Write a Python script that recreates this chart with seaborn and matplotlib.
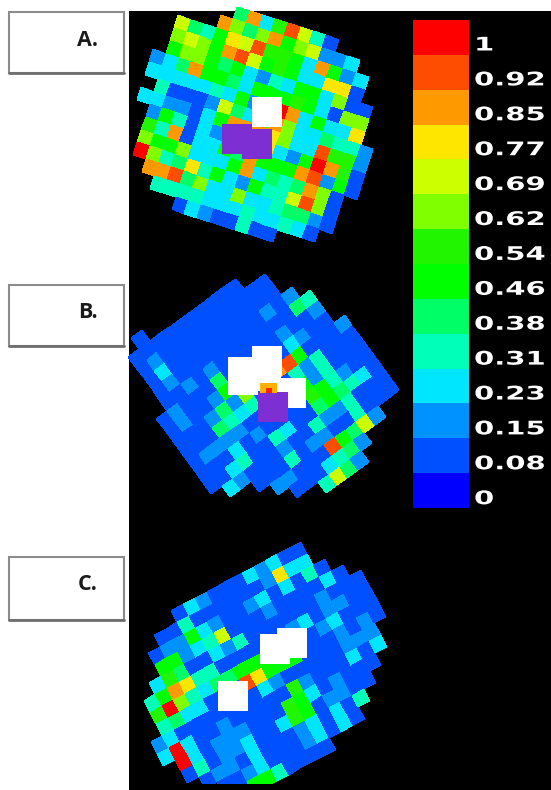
import numpy as np
import matplotlib
matplotlib.use('Agg')
import matplotlib.pyplot as plt
import seaborn as sns
from matplotlib.colors import ListedColormap
from matplotlib.patches import Rectangle
from matplotlib.patheffects import AbstractPathEffect
from matplotlib.transforms import Affine2D, Bbox, TransformedBbox

n = np.nan
o = 0.08

# colour scale, top of the bar first
scale_values = [1, 0.92, 0.85, 0.77, 0.69, 0.62, 0.54, 0.46, 0.38, 0.31, 0.23, 0.15, 0.08, 0]
scale_labels = ['1', '0.92', '0.85', '0.77', '0.69', '0.62', '0.54', '0.46', '0.38', '0.31', '0.23', '0.15', '0.08', '0']
scale_colors = ['#0000ff', '#0050ff', '#0092ff', '#00e6ff', '#00ffb8', '#00ff66', '#00ff00',
                '#22f500', '#80ff00', '#ccff00', '#ffe600', '#ff9900', '#ff4d00', '#ff0000']

panel_names = ['A.', 'B.', 'C.']

panel_a = [
    [n, n, n, n, n, .38, .85, .23, .54, .92, .69, .31, o, n, n, n, n, n],
    [n, n, n, n, .85, .62, .38, .62, .85, .46, .62, .69, .15, .15, .23, n, n, n],
    [n, .69, .38, .31, .46, .77, .69, .92, .54, .54, .46, .23, .85, .46, .15, .23, n, n],
    [n, .62, .69, .62, .46, .85, .92, .69, .46, .54, .46, .23, .23, .77, .77, o, n, n],
    [n, .46, .62, .62, .46, .38, .46, .23, .15, .31, .23, .46, .46, .23, .62, o, o, n],
    [.15, .23, .38, .85, .46, .46, .38, .23, .46, .46, .46, .54, .46, .23, o, .62, .62, n],
    [.23, .23, .23, .23, .23, .31, .23, .46, .15, .46, 1, .85, .23, .46, .23, .23, .77, n],
    [n, .31, o, o, o, .15, .69, .38, .23, .46, .85, .62, .23, .23, .38, .31, .31, .15],
    [.23, .23, .15, .15, o, .23, .46, .85, .85, .85, .77, .62, .23, .23, .92, .54, .54, .15],
    [n, .15, .46, .31, o, .23, .15, .85, .85, .85, .77, .23, .15, .46, 1, .85, .54, o],
    [n, .54, .31, .85, o, .23, .23, .46, .38, .85, .46, .46, .46, .85, .92, .15, .46, o],
    [n, .62, .46, .46, .62, .23, .23, .23, .46, .85, .23, .38, .31, .38, .85, .62, o, n],
    [n, 1, .62, .31, .38, .77, .31, .46, .23, .15, .46, .31, .31, .69, .92, .62, o, n],
    [n, n, .85, .85, .92, .38, .62, .23, .23, .62, .23, .23, .31, .38, .38, .15, o, n],
    [n, n, n, .31, .31, .31, .31, .23, .23, .23, .31, .23, .23, .31, .23, o, n, n],
    [n, n, n, n, n, o, .23, .15, o, o, .31, o, o, n, n, n, n, n],
]

panel_b = [
    [n, n, o, n, n, n, n, n, n, n, n, n, n, n, n, n],
    [n, o, o, o, o, o, o, o, o, o, o, n, n, n, n, n],
    [n, o, .15, o, o, o, o, o, o, o, o, o, o, n, n, n],
    [n, o, .23, o, o, o, o, o, o, o, o, o, o, n, n, n],
    [n, o, .15, o, o, o, o, o, o, o, o, .15, o, .15, n, n],
    [n, o, o, .15, o, .15, o, o, o, o, o, o, o, .38, .31, n],
    [o, .15, o, o, o, .38, o, o, o, o, o, .15, o, o, .15, n],
    [o, .15, o, o, .15, .46, o, o, o, o, o, .23, .15, o, o, n],
    [o, o, o, .15, .38, .15, .62, o, o, .85, .92, .46, o, o, o, .15],
    [o, o, o, .38, .31, .23, .31, o, o, o, .31, .15, .31, o, o, o],
    [o, .15, .15, .15, .15, o, o, o, o, o, .46, .15, .31, o, o, o],
    [o, o, o, .23, o, .15, o, o, o, o, .54, .46, .31, .15, o, o],
    [o, o, .23, .31, o, o, .31, .23, o, o, .38, .46, .38, .31, .23, o],
    [n, .23, .15, o, o, o, .15, o, o, .31, .15, .15, .31, o, o, o],
    [n, n, n, o, o, o, .31, o, .15, .15, o, o, .31, o, o, o],
    [n, n, n, n, .15, .15, o, o, o, .92, .46, .38, .69, .15, n, n],
    [n, n, n, n, n, o, o, o, .23, .31, .38, .15, n, n, n, n],
    [n, n, n, n, n, n, n, .31, .69, .38, .15, n, n, n, n, n],
]

panel_c = [
    [n, n, n, n, n, n, o, .23, .15, o, o, o, .23, .15, .23, o, o, n, n, n],
    [n, n, n, n, o, o, .31, o, o, o, o, o, o, .15, .77, .23, .23, n, n, n],
    [n, n, n, o, .15, .15, .46, .23, .15, o, o, .15, .23, o, .23, o, .31, o, n, n],
    [n, n, n, .46, .46, .15, .23, .31, .69, o, o, o, .15, o, o, o, o, .23, o, n],
    [n, n, .23, .54, .38, o, o, .23, .15, .31, o, o, o, o, o, o, .15, o, o, o],
    [n, .31, .46, .85, .77, .31, .31, o, o, o, o, o, o, .15, .23, o, .15, .15, o, o],
    [n, .54, 1, .62, .31, .23, .38, .38, .46, .46, .46, .46, o, o, o, .15, .23, o, o, o],
    [n, .31, .38, .23, .23, o, o, o, .92, .77, .46, .46, .46, o, o, o, .15, o, .15, o],
    [.15, .23, o, o, o, o, o, o, o, .23, .15, o, o, o, o, o, .15, .15, .15, n],
    [.23, 1, .23, o, o, .15, o, o, o, o, o, .54, .15, o, o, o, .23, o, .23, n],
    [n, 1, .23, o, .15, .15, .15, o, o, o, .54, .46, .23, o, .15, o, o, o, n, n],
    [n, o, .31, o, .15, .15, .23, o, o, .23, .54, .46, o, .15, .15, o, o, n, n, n],
    [n, n, o, .15, .15, o, .23, o, o, o, .15, .23, o, .23, o, .31, n, n, n, n],
    [n, n, n, o, o, .15, .23, o, o, o, .15, .23, o, .23, o, n, n, n, n, n],
    [n, n, n, o, o, .46, .46, .31, o, o, o, o, n, n, n, n, n, n, n, n],
]

cmap = ListedColormap(scale_colors)
half_step = 1 / 26


class Widen(AbstractPathEffect):
    # the labels in the source are stretched sideways
    def __init__(self, factor):
        super().__init__()
        self.factor = factor

    def draw_path(self, renderer, gc, tpath, affine, rgbFace=None):
        renderer.draw_path(gc, tpath, Affine2D().scale(self.factor, 1) + affine, rgbFace)


def draw_grid(ax, values, cell, angle, anchor, anchor_cell):
    # heatmap on a tilted grid, anchor = pixel centre of cell anchor_cell (col, row)
    sns.heatmap(np.array(values, dtype=float), ax=ax, cmap=cmap, vmin=-half_step, vmax=1 + half_step,
                cbar=False, xticklabels=False, yticklabels=False)
    place = Affine2D().translate(-anchor_cell[0] - 0.5, -anchor_cell[1] - 0.5)
    place = place.scale(*cell).rotate_deg(angle).translate(*anchor)
    mesh = ax.collections[-1]
    mesh.set_transform(place + ax.transData)
    mesh.set_zorder(2)
    return mesh


def add_squares(ax, squares, color):
    for x, y in squares:
        ax.add_patch(Rectangle((x, y), 30, 30, facecolor=color, edgecolor='none', zorder=3))


sns.set_style('white')
fig = plt.figure(figsize=(5.51, 7.90), dpi=100)
ax = fig.add_axes([0, 0, 1, 1])

draw_grid(ax, panel_a, (13.33, 13.33), 18, (241.7, 15), (5, 0))
draw_grid(ax, panel_b, (13.33, 13.33), -36, (333.3, 446.7), (9, 15))
mesh_c = draw_grid(ax, panel_c, (13.33, 13.33), -28, (170.7, 709), (2, 6))
draw_grid(ax, [[v] for v in scale_values], (56, 34.86), 0, (441, 37.4), (0, 0))

# black page behind the maps
ax.add_patch(Rectangle((129, 11), 422, 779, facecolor='black', edgecolor='none', zorder=0))

# marker squares on top of the maps
add_squares(ax, [(251.7, 97.3), (251.7, 346), (228.3, 356.7), (228.3, 365), (251, 361),
                 (275.7, 378), (277.3, 628.3), (260, 634.3), (217.7, 680.7)], 'white')
add_squares(ax, [(222.3, 124), (241.7, 129.3), (258.3, 392.3)], '#7d2fd4')
ax.add_patch(Rectangle((260, 383), 17, 9.5, facecolor='#ffb000', edgecolor='none', zorder=3))
ax.add_patch(Rectangle((265.5, 388), 6, 4.5, facecolor='#ff2000', edgecolor='none', zorder=3))

# colour bar labels
for i, label in enumerate(scale_labels):
    txt = ax.text(474, 45 + i * 34.9, label, color='white', fontsize=13.5, fontweight='bold',
                  ha='left', va='center', zorder=4)
    txt.set_path_effects([Widen(1.55)])

# label boxes on the left
for name, y, h in zip(panel_names, [12, 285, 557], [61, 61, 63]):
    ax.add_patch(Rectangle((9, y), 115, h, facecolor='white', edgecolor='#8c8c8c', linewidth=1.5, zorder=3))
    ax.plot([9, 124], [y + h, y + h], color='#6e6e6e', linewidth=2, zorder=4)
    ax.text(87.5, y + 28, name, color='#1a1a1a', fontsize=15.5, fontweight='bold',
            family=['Open Sans', 'DejaVu Sans'], ha='center', va='center', zorder=5)

ax.set_xlim(0, 551)
ax.set_ylim(790, 0)
ax.set_axis_off()

# map C stops flat just above the bottom of the page
mesh_c.set_clip_box(TransformedBbox(Bbox([[129, 0], [551, 784]]), ax.transData))

fig.patch.set_facecolor('white')
fig.savefig('out.png', dpi=100, facecolor='white')
